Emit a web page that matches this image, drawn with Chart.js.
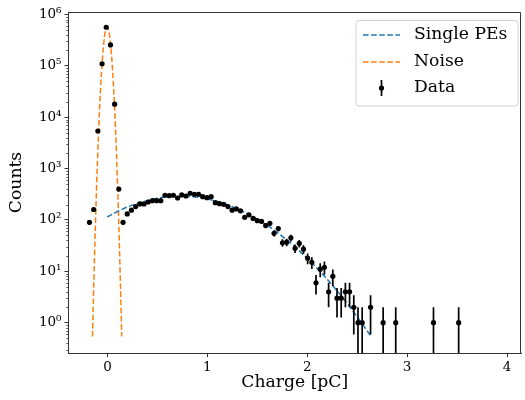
<!DOCTYPE html>
<html>
<head>
<meta charset="utf-8">
<script src="https://cdn.jsdelivr.net/npm/chart.js@4.4.1/dist/chart.umd.min.js"></script>
<style>
  html, body { margin: 0; padding: 0; background: #fff; }
  #wrap { width: 525px; height: 400px; }
</style>
</head>
<body>
<div id="wrap"><canvas id="chargeChart" width="525" height="400"></canvas></div>
<script>
// Histogram bins (charge in pC) and counts, empty bins left out
const charge = [
  -0.180, -0.138, -0.096, -0.054, -0.012, 0.030, 0.072, 0.114, 0.156, 0.198,
  0.240, 0.282, 0.324, 0.366, 0.408, 0.450, 0.492, 0.534, 0.576, 0.618,
  0.660, 0.702, 0.744, 0.786, 0.828, 0.870, 0.912, 0.954, 0.996, 1.038,
  1.080, 1.122, 1.164, 1.206, 1.248, 1.290, 1.332, 1.374, 1.416, 1.458,
  1.500, 1.542, 1.584, 1.626, 1.668, 1.710, 1.752, 1.794, 1.836, 1.878,
  1.920, 1.962, 2.004, 2.046, 2.088, 2.130, 2.172, 2.214, 2.256, 2.298,
  2.340, 2.382, 2.424, 2.466, 2.508, 2.550,
  2.634, 2.760, 2.886, 3.264, 3.516
];
const counts = [
  90, 160, 5400, 110000, 565000, 256000, 18000, 400, 90, 131,
  155, 182, 205, 205, 224, 238, 238, 238, 303, 297,
  303, 268, 307, 293, 331, 316, 316, 284, 272, 284,
  217, 208, 202, 182, 155, 164, 151, 113, 126, 107,
  97, 94, 78, 86, 55, 68, 36, 37, 45, 28,
  35, 27, 18, 15, 6, 11, 12, 4, 8, 3,
  3, 4, 4, 2, 1, 1,
  2, 1, 1, 1, 1
];

// Fit curves
const speX = [-0.004, 0.2, 0.4, 0.6, 0.8, 1.0, 1.2, 1.4, 1.6, 1.8, 2.0, 2.2, 2.4, 2.642];
const speY = [115, 179, 240, 281, 287, 255, 197, 133, 78.3, 40.2, 17.9, 7.0, 2.37, 0.533];
const noiseX = [-0.150, -0.13, -0.11, -0.09, -0.07, -0.05, -0.03, -0.01, 0.01, 0.03, 0.05, 0.07, 0.09, 0.11, 0.13, 0.143];
const noiseY = [0.54, 18.3, 374, 4550, 32900, 142000, 365000, 560000, 512000, 279000, 90400, 17500, 2010, 138, 5.65, 0.54];

const xTicks = [0, 1, 2, 3, 4];
const yTicks = [1, 10, 100, 1000, 10000, 100000, 1000000];

const SUP = ['⁰', '¹', '²', '³', '⁴', '⁵', '⁶', '⁷', '⁸', '⁹'];
const FONT = "'DejaVu Serif', serif";
const AXIS = '#333';

Chart.defaults.font.family = FONT;
Chart.defaults.color = '#000';

// vertical sqrt(N) error bars under the data dots
const errorBars = {
  id: 'errorBars',
  beforeDatasetDraw(chart, args) {
    if (args.index !== 0) return;
    const {ctx, chartArea: a, scales: {x, y}} = chart;
    ctx.save();
    ctx.beginPath();
    ctx.rect(a.left, a.top, a.right - a.left, a.bottom - a.top);
    ctx.clip();
    ctx.strokeStyle = '#000';
    ctx.lineWidth = 1.7;
    ctx.beginPath();
    counts.forEach((n, i) => {
      const err = Math.sqrt(n);
      const px = x.getPixelForValue(charge[i]);
      const lo = n - err > 0 ? y.getPixelForValue(n - err) : a.bottom + 2;
      const hi = y.getPixelForValue(n + err);
      ctx.moveTo(px, lo);
      ctx.lineTo(px, hi);
    });
    ctx.stroke();
    ctx.restore();
  }
};

// minor log ticks, top/right spines and the legend box
const frame = {
  id: 'frame',
  afterDraw(chart) {
    const {ctx, chartArea: a, scales: {y}} = chart;
    ctx.save();
    ctx.strokeStyle = AXIS;
    ctx.lineWidth = 0.8;
    ctx.beginPath();
    for (let e = -1; e <= 6; e++) {
      for (let m = 2; m <= 9; m++) {
        const v = m * Math.pow(10, e);
        if (v < y.min || v > y.max) continue;
        const py = Math.round(y.getPixelForValue(v)) + 0.5;
        ctx.moveTo(a.left - 2.2, py);
        ctx.lineTo(a.left, py);
      }
    }
    ctx.stroke();

    ctx.lineWidth = 1;
    ctx.beginPath();
    ctx.moveTo(a.left, a.top + 0.5);
    ctx.lineTo(a.right - 0.5, a.top + 0.5);
    ctx.lineTo(a.right - 0.5, a.bottom);
    ctx.stroke();

    // legend
    const lx = 356, ly = 20.5, lw = 162, lh = 85.5;
    ctx.beginPath();
    ctx.roundRect(lx, ly, lw, lh, 3);
    ctx.fillStyle = 'rgba(255,255,255,0.8)';
    ctx.fill();
    ctx.strokeStyle = '#d0d0d0';
    ctx.lineWidth = 1;
    ctx.stroke();

    const rows = [
      {label: 'Single PEs', color: '#1f77b4', y: 35},
      {label: 'Noise', color: '#ff7f0e', y: 62},
      {label: 'Data', color: '#000', y: 88}
    ];
    ctx.font = '17.2px ' + FONT;
    ctx.textBaseline = 'middle';
    rows.forEach((r, i) => {
      if (i < 2) {
        ctx.strokeStyle = r.color;
        ctx.lineWidth = 1.5;
        ctx.setLineDash([5.6, 2.5]);
        ctx.beginPath();
        ctx.moveTo(363, r.y);
        ctx.lineTo(400, r.y);
        ctx.stroke();
        ctx.setLineDash([]);
      } else {
        ctx.strokeStyle = '#000';
        ctx.lineWidth = 1.7;
        ctx.beginPath();
        ctx.moveTo(381.5, r.y - 8);
        ctx.lineTo(381.5, r.y + 8);
        ctx.stroke();
        ctx.fillStyle = '#000';
        ctx.beginPath();
        ctx.arc(381.5, r.y, 2.6, 0, Math.PI * 2);
        ctx.fill();
      }
      ctx.fillStyle = '#000';
      ctx.fillText(r.label, 414, r.y);
    });
    ctx.restore();
  }
};

const ctx = document.getElementById('chargeChart').getContext('2d');
const chargeChart = new Chart(ctx, {
  type: 'scatter',
  data: {
    datasets: [
      {
        label: 'Data',
        data: charge.map((x, i) => ({x: x, y: counts[i]})),
        backgroundColor: '#000',
        borderColor: '#000',
        pointRadius: 2.6,
        pointBorderWidth: 0,
        order: 0
      },
      {
        label: 'Single PEs',
        data: speX.map((x, i) => ({x: x, y: speY[i]})),
        showLine: true,
        borderColor: '#1f77b4',
        borderWidth: 1.5,
        borderDash: [5.6, 2.5],
        pointRadius: 0,
        cubicInterpolationMode: 'monotone',
        order: 1
      },
      {
        label: 'Noise',
        data: noiseX.map((x, i) => ({x: x, y: noiseY[i]})),
        showLine: true,
        borderColor: '#ff7f0e',
        borderWidth: 1.5,
        borderDash: [5.6, 2.5],
        pointRadius: 0,
        cubicInterpolationMode: 'monotone',
        order: 2
      }
    ]
  },
  options: {
    responsive: false,
    animation: false,
    layout: { padding: { top: 12, right: 2, left: 0, bottom: 0 } },
    plugins: {
      legend: { display: false },
      tooltip: { enabled: false }
    },
    scales: {
      x: {
        type: 'linear',
        min: -0.39,
        max: 4.14,
        afterBuildTicks: function(scale) {
          scale.ticks = xTicks.map(v => ({value: v}));
        },
        afterFit: function(scale) {
          scale.height = 47;
          scale.paddingLeft = 0;
          scale.paddingRight = 0;
        },
        ticks: {
          font: { size: 13.5 },
          color: '#000',
          padding: 2,
          maxRotation: 0,
          callback: v => String(v)
        },
        grid: { display: true, drawOnChartArea: false, tickLength: 4, color: AXIS, tickWidth: 1 },
        border: { display: true, color: AXIS, width: 1 },
        title: {
          display: true,
          text: 'Charge [pC]',
          font: { size: 17.2 },
          color: '#000',
          padding: { top: 0, bottom: 7 }
        }
      },
      y: {
        type: 'logarithmic',
        min: 0.257,
        max: 1.12e6,
        afterBuildTicks: function(scale) {
          scale.ticks = yTicks.map(v => ({value: v}));
        },
        afterFit: function(scale) {
          scale.width = 68.5;
          scale.paddingTop = 0;
          scale.paddingBottom = 0;
        },
        ticks: {
          font: { size: 13.5 },
          color: '#000',
          padding: 3,
          callback: v => '10' + SUP[Math.round(Math.log10(v))]
        },
        grid: { display: true, drawOnChartArea: false, tickLength: 4, color: AXIS, tickWidth: 1 },
        border: { display: true, color: AXIS, width: 1 },
        title: {
          display: true,
          text: 'Counts',
          font: { size: 17.2 },
          color: '#000',
          padding: { top: 6, bottom: 0 }
        }
      }
    }
  },
  plugins: [errorBars, frame]
});
</script>
</body>
</html>
